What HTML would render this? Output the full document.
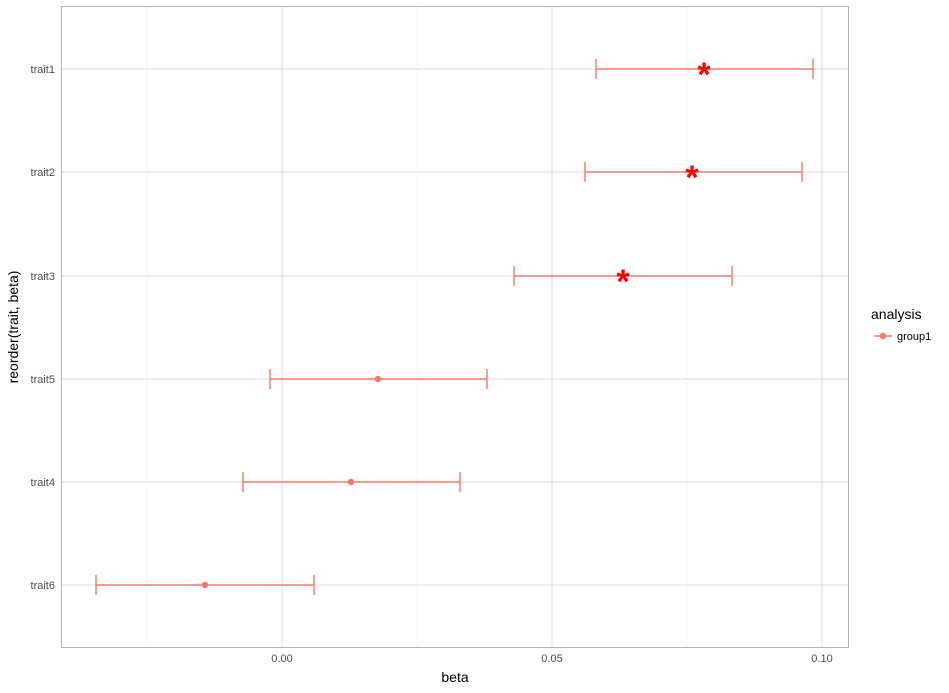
<!DOCTYPE html><html><head><style>body{margin:0;background:#fff}</style></head><body>
<svg width="949" height="688" xmlns="http://www.w3.org/2000/svg" font-family="Liberation Sans, sans-serif">
<rect width="949" height="688" fill="#fff"/>
<g stroke="#ebebeb" stroke-width="0.6">
<line x1="147" y1="6" x2="147" y2="647"/><line x1="417" y1="6" x2="417" y2="647"/><line x1="687" y1="6" x2="687" y2="647"/>
</g>
<g stroke="#dedede" stroke-width="1">
<line x1="282" y1="6" x2="282" y2="647"/><line x1="552" y1="6" x2="552" y2="647"/><line x1="822" y1="6" x2="822" y2="647"/>
<line x1="61" y1="69" x2="848" y2="69"/><line x1="61" y1="172" x2="848" y2="172"/><line x1="61" y1="276" x2="848" y2="276"/>
<line x1="61" y1="379" x2="848" y2="379"/><line x1="61" y1="482" x2="848" y2="482"/><line x1="61" y1="585" x2="848" y2="585"/>
</g>
<rect x="61.5" y="6.5" width="787" height="641" fill="none" stroke="#b3b3b3"/>
<g stroke="#f8766d" stroke-width="1.4" fill="none">
<path d="M596 69H813M596 59V79M813 59V79"/>
<path d="M585 172H802M585 162V182M802 162V182"/>
<path d="M514 276H732M514 266V286M732 266V286"/>
<path d="M270 379H487M270 369V389M487 369V389"/>
<path d="M243 482H460M243 472V492M460 472V492"/>
<path d="M96 585H314M96 575V595M314 575V595"/>
</g>
<g fill="#f8766d"><circle cx="378" cy="379" r="3.2"/><circle cx="351" cy="482" r="3.2"/><circle cx="205" cy="585" r="3.2"/></g>
<g fill="#ff0000" font-size="34" font-weight="bold" text-anchor="middle">
<text x="704" y="86">*</text><text x="692" y="189">*</text><text x="623" y="293">*</text>
</g>
<g font-size="11" fill="#4d4d4d" text-anchor="end">
<text x="55" y="73">trait1</text><text x="55" y="176">trait2</text><text x="55" y="280">trait3</text>
<text x="55" y="383">trait5</text><text x="55" y="486">trait4</text><text x="55" y="589">trait6</text>
</g>
<g font-size="11" fill="#4d4d4d" text-anchor="middle">
<text x="282" y="662">0.00</text><text x="552" y="662">0.05</text><text x="822" y="662">0.10</text>
</g>
<text x="455" y="682" font-size="14" text-anchor="middle" fill="#000">beta</text>
<text transform="translate(18,327) rotate(-90)" font-size="14" text-anchor="middle" fill="#000">reorder(trait, beta)</text>
<text x="871" y="319" font-size="14" fill="#000">analysis</text>
<line x1="874" y1="336" x2="892" y2="336" stroke="#f8766d" stroke-width="1.4"/>
<circle cx="883" cy="336" r="3.2" fill="#f8766d"/>
<text x="897" y="340" font-size="11" fill="#000">group1</text>
</svg></body></html>
